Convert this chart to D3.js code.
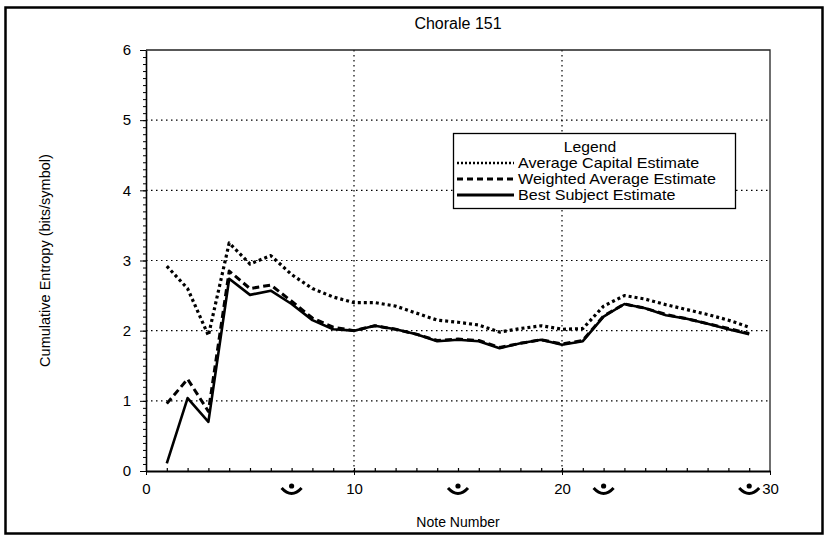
<!DOCTYPE html>
<html>
<head>
<meta charset="utf-8">
<script src="https://cdn.jsdelivr.net/npm/d3@7"></script>
<style>
	body { margin: 0; background: #fff; }
	svg text { font-family: "Liberation Sans", Arial, sans-serif; fill: #000; }
</style>
</head>
<body>
<svg id="chart" width="829" height="540"></svg>
<script>
var notes = [1, 2, 3, 4, 5, 6, 7, 8, 9, 10, 11, 12, 13, 14, 15, 16, 17, 18, 19, 20,
	21, 22, 23, 24, 25, 26, 27, 28, 29];
var averageCapital = [2.92, 2.6, 1.93, 3.25, 2.95, 3.07, 2.8, 2.6, 2.48, 2.4,
	2.4, 2.35, 2.25, 2.15, 2.12, 2.08, 1.98, 2.03, 2.07, 2.02,
	2.03, 2.35, 2.5, 2.45, 2.37, 2.3, 2.23, 2.15, 2.05];
var weightedAverage = [0.96, 1.31, 0.85, 2.85, 2.6, 2.65, 2.42, 2.18, 2.05, 2.0,
	2.07, 2.02, 1.95, 1.86, 1.88, 1.86, 1.76, 1.82, 1.87, 1.81,
	1.86, 2.21, 2.38, 2.32, 2.23, 2.17, 2.1, 2.03, 1.96];
var bestSubject = [0.11, 1.04, 0.7, 2.74, 2.51, 2.57, 2.38, 2.15, 2.02, 2.0,
	2.07, 2.02, 1.95, 1.85, 1.87, 1.85, 1.75, 1.82, 1.87, 1.8,
	1.85, 2.2, 2.38, 2.32, 2.22, 2.17, 2.1, 2.02, 1.95];
var seriesNames = ["Average Capital Estimate", "Weighted Average Estimate", "Best Subject Estimate"];
var xTicks = [0, 10, 20, 30];
var yTicks = [0, 1, 2, 3, 4, 5, 6];
var fermataNotes = [7, 15, 22, 29];

var svg = d3.select("#chart");
var margin = { top: 50, right: 59, bottom: 69, left: 146 };
var width = 829 - margin.left - margin.right;
var height = 540 - margin.top - margin.bottom;

// outer frame
svg.append("rect")
	.attr("x", 5.5).attr("y", 7.5)
	.attr("width", 817).attr("height", 526)
	.attr("fill", "none")
	.attr("stroke", "#000")
	.attr("stroke-width", 2.5);

var G = svg.append("g").attr("transform", "translate(" + margin.left + "," + margin.top + ")");

var xScale = d3.scaleLinear().domain([0, 30]).range([0, width]);
var yScale = d3.scaleLinear().domain([0, 6]).range([height, 0]);

// grid
G.selectAll(".hgrid").data([1, 2, 3, 4, 5]).enter().append("line")
	.attr("x1", 0).attr("x2", width)
	.attr("y1", d => yScale(d)).attr("y2", d => yScale(d))
	.attr("stroke", "#000").attr("stroke-width", 1.2)
	.attr("stroke-dasharray", "1.5,3.5");
G.selectAll(".vgrid").data([10, 20]).enter().append("line")
	.attr("y1", 0).attr("y2", height)
	.attr("x1", d => xScale(d)).attr("x2", d => xScale(d))
	.attr("stroke", "#000").attr("stroke-width", 1.2)
	.attr("stroke-dasharray", "1.5,3.5");

// plot border top/right
G.append("path")
	.attr("d", "M0,0H" + width + "V" + height)
	.attr("fill", "none").attr("stroke", "#222").attr("stroke-width", 1.3);

// minor ticks
var yMinor = d3.range(0, 60).map(i => i / 10);
G.append("g")
	.call(d3.axisLeft(yScale).tickValues(yMinor).tickSize(3).tickFormat(""))
	.call(g => g.select(".domain").remove())
	.selectAll("line").attr("stroke-width", 1);
G.append("g")
	.attr("transform", "translate(0," + height + ")")
	.call(d3.axisTop(xScale).tickValues(d3.range(1, 30)).tickSize(3).tickFormat(""))
	.call(g => g.select(".domain").remove())
	.selectAll("line").attr("stroke-width", 1.2);

// axes
var yAxis = G.append("g")
	.call(d3.axisLeft(yScale).tickValues(yTicks).tickFormat(d3.format("d"))
		.tickSize(6).tickSizeOuter(0).tickPadding(9));
yAxis.select(".domain").attr("stroke-width", 1.6);
yAxis.selectAll("text").style("font-size", "15px");

var xAxis = G.append("g")
	.attr("transform", "translate(0," + height + ")")
	.call(d3.axisBottom(xScale).tickValues(xTicks).tickFormat(d3.format("d"))
		.tickSize(4).tickSizeOuter(0).tickPadding(8));
xAxis.select(".domain").attr("stroke-width", 1.8);
xAxis.selectAll("text").style("font-size", "15px");

// fermatas under the x axis
var fermata = G.selectAll(".fermata").data(fermataNotes).enter().append("g")
	.attr("transform", d => "translate(" + xScale(d) + "," + (height + 16) + ")");
fermata.append("path")
	.attr("d", "M-10,1 Q0,12 10,1")
	.attr("fill", "none").attr("stroke", "#000").attr("stroke-width", 3);
fermata.append("circle")
	.attr("cx", 0).attr("cy", -1).attr("r", 2.6).attr("fill", "#000");

// series
var line = d3.line()
	.x((d, i) => xScale(notes[i]))
	.y(d => yScale(d));

var styles = [
	{ values: averageCapital, dash: "3,3", w: 3.2 },
	{ values: weightedAverage, dash: "7,4", w: 3 },
	{ values: bestSubject, dash: null, w: 2.6 }
];
styles.forEach(function(s) {
	G.append("path")
		.datum(s.values)
		.attr("d", line)
		.attr("fill", "none")
		.attr("stroke", "#000")
		.attr("stroke-width", s.w)
		.attr("stroke-dasharray", s.dash)
		.attr("stroke-linejoin", "round");
});

// title and labels
svg.append("text")
	.attr("x", margin.left + width / 2).attr("y", 29)
	.style("text-anchor", "middle").style("font-size", "16px")
	.text("Chorale 151");
svg.append("text")
	.attr("x", margin.left + width / 2).attr("y", 527)
	.style("text-anchor", "middle").style("font-size", "14px")
	.text("Note Number");
svg.append("text")
	.attr("transform", "translate(50," + (margin.top + height / 2) + ") rotate(-90)")
	.style("text-anchor", "middle").style("font-size", "14.5px")
	.text("Cumulative Entropy (bits/symbol)");

// legend
var lg = svg.append("g");
lg.append("rect")
	.attr("x", 453.5).attr("y", 133.5)
	.attr("width", 282).attr("height", 75)
	.attr("fill", "#fff").attr("stroke", "#000").attr("stroke-width", 1.3);
lg.append("text")
	.attr("transform", "translate(590,152) scale(1.12,1)")
	.style("text-anchor", "middle").style("font-size", "14px")
	.text("Legend");
seriesNames.forEach(function(name, i) {
	var y = 163 + i * 16;
	lg.append("line")
		.attr("x1", 457).attr("x2", 514)
		.attr("y1", y).attr("y2", y)
		.attr("stroke", "#000")
		.attr("stroke-width", i == 0 ? 2.4 : 3)
		.attr("stroke-dasharray", i == 0 ? "2,2" : i == 1 ? "6,4" : null);
	lg.append("text")
		.attr("transform", "translate(518," + (y + 5) + ") scale(1.15,1)")
		.style("font-size", "14px")
		.text(name);
});
</script>
</body>
</html>
